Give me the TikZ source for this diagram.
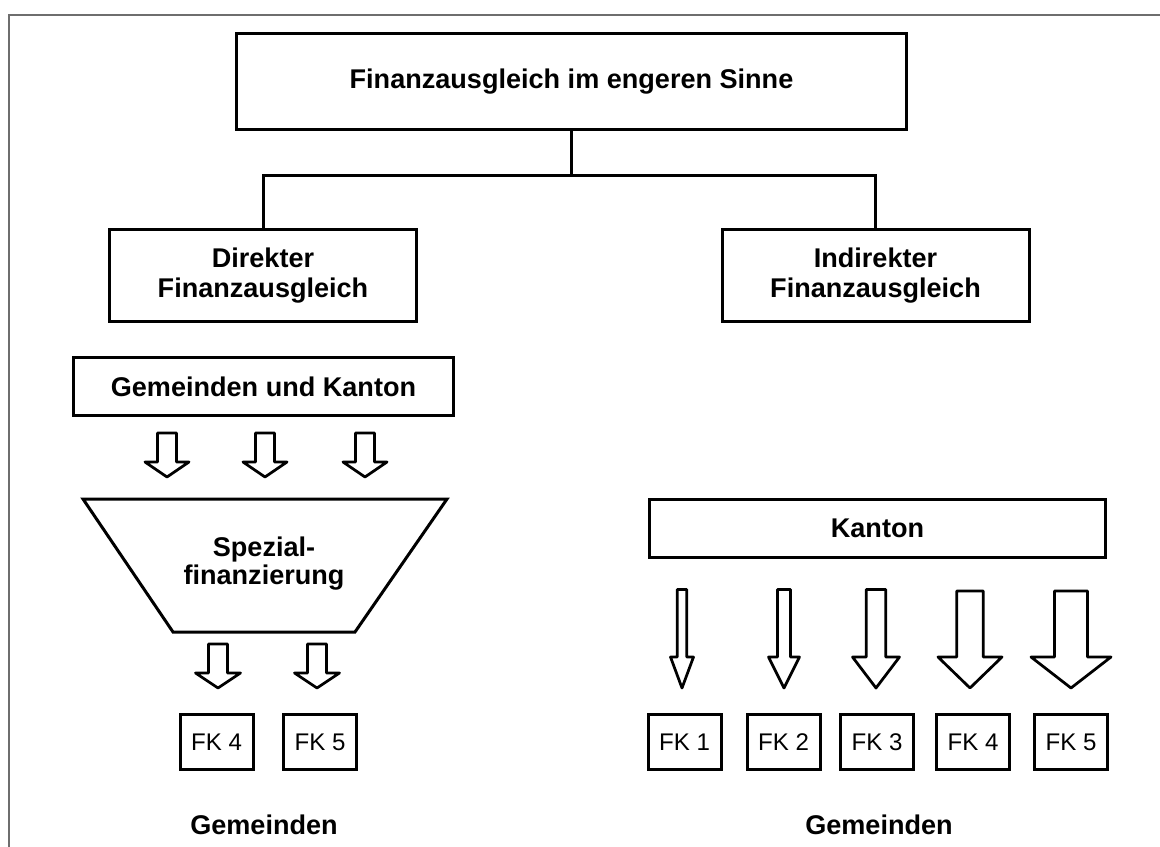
\documentclass[tikz,border=0pt]{standalone}
\usepackage{fontspec}
\setmainfont{Liberation Sans}

\tikzset{
  kasten/.style={draw=black, line width=0.6mm, fill=white, align=center,
    font=\fontsize{15.4}{17}\selectfont\bfseries},
  fkkasten/.style={draw=black, line width=0.6mm, minimum width=14.6mm,
    minimum height=11mm, inner sep=0pt, font=\fontsize{13.7}{15}\selectfont},
  titel/.style={align=center, font=\fontsize{15.4}{15.9}\selectfont\bfseries},
  linie/.style={draw=black, line width=0.6mm},
  pfeil/.style={draw=black, line width=0.55mm, line join=round},
  rahmen/.style={draw=black!57, line width=0.4mm}
}

\begin{document}
\begin{tikzpicture}[x=0.2mm, y=-0.2mm]
\useasboundingbox (0,0) rectangle (1160,847);
\draw[rahmen] (9,847) -- (9,15) -- (1160,15);

% oberste Ebene
\node[kasten, minimum width=134mm, minimum height=19.2mm] (ober) at (571.5,81.5) {Finanzausgleich im engeren Sinne};
\node[kasten, minimum width=61.4mm, minimum height=18.4mm] (direkt) at (263,275.5) {Direkter\\Finanzausgleich};
\node[kasten, minimum width=61.4mm, minimum height=18.4mm] (indirekt) at (875.5,275.5) {Indirekter\\Finanzausgleich};
\coordinate (knick) at (571.5,176);
\draw[linie] (ober.south) -- (knick);
\draw[linie] (direkt.north) |- (knick) -| (indirekt.north);

% direkter Finanzausgleich
\node[kasten, minimum width=76mm, minimum height=11.6mm] (gemkanton) at (263.5,386.5) {Gemeinden und Kanton};
\foreach \x in {167,265,365}
  \draw[pfeil] ({\x-9.5},433) -- ({\x+9.5},433) -- ({\x+9.5},462) -- ({\x+22},462)
    -- (\x,477) -- ({\x-22},462) -- ({\x-9.5},462) -- cycle;
\draw[linie] (83,499) -- (447,499) -- (355,632) -- (173,632) -- cycle;
\node[titel] (spezial) at (264,564) {Spezial-\\finanzierung};
\foreach \x in {218,317}
  \draw[pfeil] ({\x-9.5},644) -- ({\x+9.5},644) -- ({\x+9.5},673) -- ({\x+22.5},673)
    -- (\x,688) -- ({\x-22.5},673) -- ({\x-9.5},673) -- cycle;
\node[fkkasten] (fkl4) at (216.5,742) {FK 4};
\node[fkkasten] (fkl5) at (320,742) {FK 5};
\node[titel] (geml) at (264,825) {Gemeinden};

% indirekter Finanzausgleich
\node[kasten, minimum width=91.2mm, minimum height=11.6mm] (kanton) at (877.5,528.5) {Kanton};
\foreach \x/\a/\b/\t in {682/4.75/11.5/589.5, 784/6.4/15.5/589.5, 876/9.75/23.5/589.5,
    970/13.3/32/591, 1071/16.4/40/591}
  \draw[pfeil] ({\x-\a},\t) -- ({\x+\a},\t) -- ({\x+\a},657) -- ({\x+\b},657)
    -- (\x,688) -- ({\x-\b},657) -- ({\x-\a},657) -- cycle;
\node[fkkasten] (fk1) at (684.5,742) {FK 1};
\node[fkkasten] (fk2) at (783.5,742) {FK 2};
\node[fkkasten] (fk3) at (877,742) {FK 3};
\node[fkkasten] (fk4) at (973,742) {FK 4};
\node[fkkasten] (fk5) at (1071,742) {FK 5};
\node[titel] (gemr) at (879,825) {Gemeinden};
\end{tikzpicture}
\end{document}
